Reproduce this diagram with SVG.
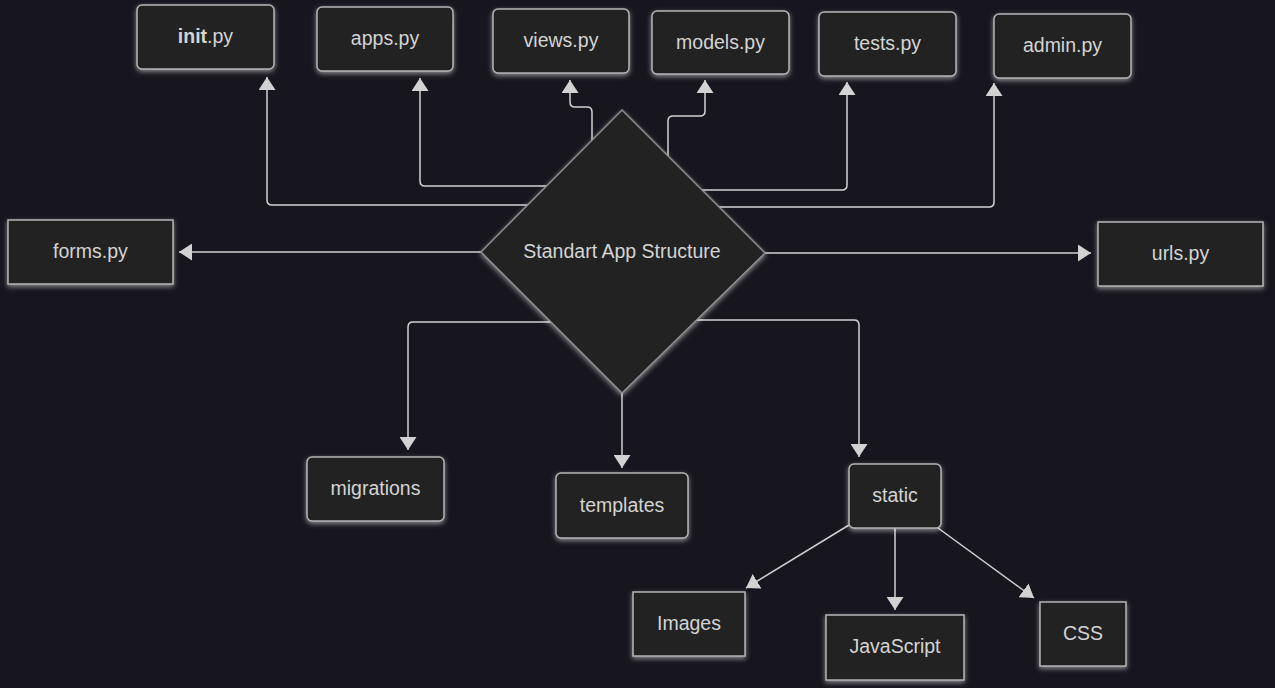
<svg xmlns="http://www.w3.org/2000/svg" width="1275" height="688" viewBox="0 0 1275 688">
<defs>
<style>
.node{fill:#212321;stroke:#b4b4b4;stroke-width:1.5;filter:url(#glow)}
.lbl{font-family:"Liberation Sans",Arial,sans-serif;font-size:19.5px;fill:#d4d4d4;text-anchor:middle}
.conn{fill:none;stroke:#d2d2d2;stroke-width:1.5;marker-end:url(#arr)}
</style>
<filter id="glow" x="-20%" y="-30%" width="140%" height="170%">
<feGaussianBlur in="SourceAlpha" stdDeviation="2.5" result="b"/>
<feOffset in="b" dy="2" result="o"/>
<feFlood flood-color="#ffffff" flood-opacity="0.5"/>
<feComposite in2="o" operator="in" result="s"/>
<feMerge><feMergeNode in="s"/><feMergeNode in="SourceGraphic"/></feMerge>
</filter>
<marker id="arr" viewBox="0 0 13 17" refX="13" refY="8.5" markerWidth="13" markerHeight="17" markerUnits="userSpaceOnUse" orient="auto">
<path d="M0,0 L13,8.5 L0,17 z" fill="#d2d2d2"/>
</marker>
</defs>
<rect width="1275" height="688" fill="#17161f"/>
<g id="connectors">
<path class="conn" d="M560,205 H272 Q267,205 267,200 V77"/>
<path class="conn" d="M570,186 H425 Q420,186 420,181 V78"/>
<path class="conn" d="M592,150 V112 Q592,107 587,107 H575 Q570,107 570,102 V80"/>
<path class="conn" d="M668,160 V121 Q668,116 673,116 H700 Q705,116 705,111 V80"/>
<path class="conn" d="M690,190 H842 Q847,190 847,185 V82"/>
<path class="conn" d="M700,207 H989 Q994,207 994,202 V83"/>
<path class="conn" d="M500,252 H179"/>
<path class="conn" d="M750,253 H1091"/>
<path class="conn" d="M560,322 H413 Q408,322 408,327 V450"/>
<path class="conn" d="M622,380 V468"/>
<path class="conn" d="M690,320 H854 Q859,320 859,325 V457"/>
<path class="conn" d="M849,525 L746,588"/>
<path class="conn" d="M895,528 V610"/>
<path class="conn" d="M938,528 L1034,598"/>
</g>
<g id="center">
<polygon class="node" points="622,110 765,253 622,393 481,252" style="stroke:#8c8c8c"/>
<text class="lbl" x="622" y="251" dy="0.35em">Standart App Structure</text>
</g>
<g id="init">
<rect class="node" x="137" y="5" width="137" height="64" rx="5"/>
<text class="lbl" x="205.5" y="36.5" dy="0.35em"><tspan font-weight="bold">init</tspan>.py</text>
</g>
<g id="apps">
<rect class="node" x="317" y="7" width="136" height="64" rx="5"/>
<text class="lbl" x="385" y="38.5" dy="0.35em">apps.py</text>
</g>
<g id="views">
<rect class="node" x="493" y="9" width="136" height="64" rx="5"/>
<text class="lbl" x="561" y="40.5" dy="0.35em">views.py</text>
</g>
<g id="models">
<rect class="node" x="652" y="11" width="137" height="63" rx="5"/>
<text class="lbl" x="720.5" y="42" dy="0.35em">models.py</text>
</g>
<g id="tests">
<rect class="node" x="819" y="12" width="137" height="64" rx="5"/>
<text class="lbl" x="887.5" y="43.5" dy="0.35em">tests.py</text>
</g>
<g id="admin">
<rect class="node" x="994" y="14" width="137" height="64" rx="5"/>
<text class="lbl" x="1062.5" y="45.5" dy="0.35em">admin.py</text>
</g>
<g id="forms">
<rect class="node" x="8" y="220" width="165" height="64"/>
<text class="lbl" x="90.5" y="251" dy="0.35em">forms.py</text>
</g>
<g id="urls">
<rect class="node" x="1098" y="222" width="165" height="64"/>
<text class="lbl" x="1180.5" y="253" dy="0.35em">urls.py</text>
</g>
<g id="migrations">
<rect class="node" x="307" y="457" width="137" height="64" rx="5"/>
<text class="lbl" x="375.5" y="488.5" dy="0.35em">migrations</text>
</g>
<g id="templates">
<rect class="node" x="556" y="473" width="132" height="65" rx="5"/>
<text class="lbl" x="622" y="505" dy="0.35em">templates</text>
</g>
<g id="static">
<rect class="node" x="849" y="464" width="92" height="64" rx="5"/>
<text class="lbl" x="895" y="495.5" dy="0.35em">static</text>
</g>
<g id="images">
<rect class="node" x="633" y="592" width="112" height="64"/>
<text class="lbl" x="689" y="623" dy="0.35em">Images</text>
</g>
<g id="javascript">
<rect class="node" x="826" y="615" width="138" height="65"/>
<text class="lbl" x="895" y="646.5" dy="0.35em">JavaScript</text>
</g>
<g id="css">
<rect class="node" x="1040" y="602" width="86" height="64"/>
<text class="lbl" x="1083" y="633" dy="0.35em">CSS</text>
</g>
</svg>
